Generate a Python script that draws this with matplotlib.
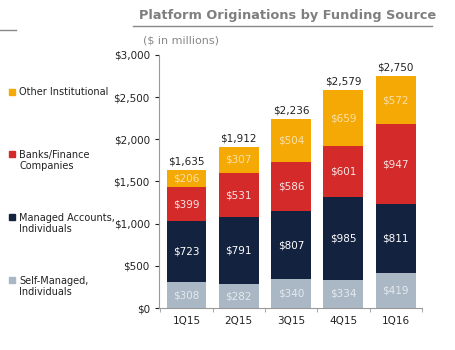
import matplotlib.pyplot as plt
import numpy as np

quarters = ["1Q15", "2Q15", "3Q15", "4Q15", "1Q16"]
self_managed = [308, 282, 340, 334, 419]
managed = [723, 791, 807, 985, 811]
banks = [399, 531, 586, 601, 947]
other = [206, 307, 504, 659, 572]
totals = ["$1,635", "$1,912", "$2,236", "$2,579", "$2,750"]

series = [
    ("Self-Managed,\nIndividuals", self_managed, "#a9b8c4", "#e4eaef"),
    ("Managed Accounts,\nIndividuals", managed, "#13233f", "white"),
    ("Banks/Finance\nCompanies", banks, "#d42a2a", "#fbe3e3"),
    ("Other Institutional", other, "#f5a905", "#fbe0a8"),
]

fig = plt.figure(figsize=(4.55, 3.5), dpi=100)
ax = fig.add_axes([0.349, 0.12, 0.578, 0.723])

x = np.arange(len(quarters))
bottom = np.zeros(len(quarters))
for name, vals, color, tcolor in series:
    ax.bar(x, vals, 0.76, bottom=bottom, color=color)
    for xi, b, v in zip(x, bottom, vals):
        ax.text(xi, b + v / 2, "$%d" % v, ha="center", va="center",
                color=tcolor, fontsize=7.5)
    bottom += vals

for xi, top, t in zip(x, bottom, totals):
    ax.text(xi, top + 45, t, ha="center", va="bottom", fontsize=7.5, color="#222222")

ax.set_xlim(-0.53, 4.48)
ax.set_ylim(0, 3000)
ax.set_yticks(range(0, 3001, 500))
ax.set_yticklabels(["$0", "$500", "$1,000", "$1,500", "$2,000", "$2,500", "$3,000"])
ax.set_xticks(x)
ax.set_xticklabels(quarters)
ax.tick_params(labelsize=7.5, colors="#222222", length=3)
ax.tick_params(axis="x", length=0, pad=6)
ax.set_xticks(np.arange(-0.5, 4.6, 1), minor=True)
ax.tick_params(axis="x", which="minor", length=3, color="#999999")
for s in ["top", "right"]:
    ax.spines[s].set_visible(False)
for s in ["left", "bottom"]:
    ax.spines[s].set_color("#999999")
    ax.spines[s].set_linewidth(0.8)

fig.text(0.632, 0.955, "Platform Originations by Funding Source", ha="center",
         va="center", fontsize=9.3, fontweight="bold", color="#7f7f7f")
fig.add_artist(plt.Line2D([0.292, 0.95], [0.925, 0.925], color="#888888", lw=1))
fig.add_artist(plt.Line2D([0.0, 0.035], [0.913, 0.913], color="#888888", lw=1))
fig.text(0.314, 0.885, "($ in millions)", ha="left", va="center", fontsize=8,
         color="#888888")

legend_y = [0.2, 0.38, 0.56, 0.737]
for (name, vals, color, tcolor), ly in zip(series, legend_y):
    fig.patches.append(plt.Rectangle((0.02, ly - 0.009), 0.013, 0.017,
                                     transform=fig.transFigure, color=color))
    lines = name.split("\n")
    fig.text(0.042, ly + 0.012 if len(lines) > 1 else ly, name, ha="left",
             va="top" if len(lines) > 1 else "center",
             fontsize=7, color="#222222", linespacing=1.1)

fig.savefig("out.png", dpi=100)
